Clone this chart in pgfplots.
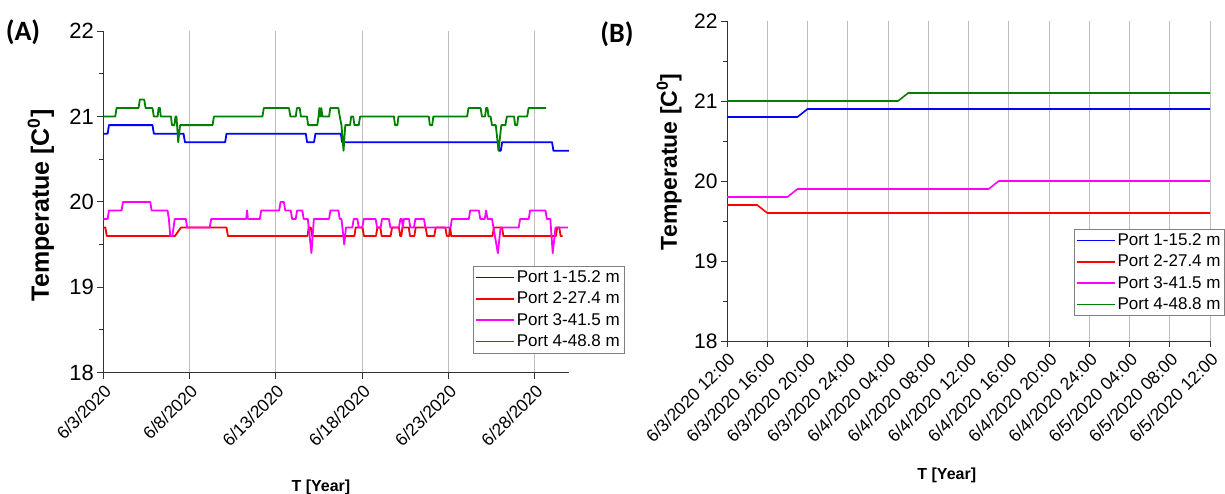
\documentclass[border=0pt]{standalone}
\usepackage{fontspec}
\setmainfont{Liberation Sans}
\newfontfamily\panelfont{Carlito}
\usepackage{pgfplots}
\pgfplotsset{compat=1.18}

\definecolor{pblue}{RGB}{0,0,255}
\definecolor{pred}{RGB}{255,0,0}
\definecolor{pmag}{RGB}{255,0,255}
\definecolor{pgreen}{RGB}{0,128,0}
\definecolor{gridgray}{RGB}{190,190,190}
\definecolor{axisgray}{RGB}{50,50,50}

\pgfplotsset{
  tempaxis/.style={
    scale only axis,
    anchor=south west,
    axis lines*=left,
    axis line style={-, line width=1pt, axisgray},
    enlargelimits=false,
    ymin=18, ymax=22, ytick={18,19,20,21,22}, minor y tick num=1,
    tick align=outside,
    major tick length=6pt, minor tick length=4pt,
    every tick/.style={axisgray, line width=0.9pt},
    xmajorgrids, grid style={gridgray, line width=0.8pt},
    /pgf/number format/assume math mode=true,
    y tick label style={font=\fontsize{22}{24}\selectfont},
    x tick label style={font=\fontsize{17.5}{19}\selectfont, rotate=45, anchor=north east},
    ylabel={\bfseries Temperatue [C\textsuperscript{0}]},
    xlabel={\bfseries T [Year]},
    xlabel style={font=\fontsize{16}{18}\selectfont, anchor=center},
    legend cell align=left,
    legend style={anchor=north west, draw=gray, fill=white,
      font=\fontsize{17}{19}\selectfont, row sep=4pt,
      inner xsep=2pt, inner ysep=2.5pt},
    legend image code/.code={\draw[##1] (0pt,0pt) -- (38pt,0pt);},
  },
  % the four sensor ports
  port1/.style={color=pblue, line width=#1, line join=round},
  port2/.style={color=pred, line width=#1, line join=round},
  port3/.style={color=pmag, line width=#1, line join=round},
  port4/.style={color=pgreen, line width=#1, line join=round},
}

\begin{document}
\begin{tikzpicture}
\useasboundingbox (0pt,0pt) rectangle (1225pt,493pt);

% ---------- (A) daily record, x = days after 6/3/2020 ----------
\begin{axis}[tempaxis,
  at={(103.3pt,120.5pt)}, width=466pt, height=341.2pt,
  xmin=0, xmax=27,
  xtick={0,5,10,15,20,25},
  xticklabels={6/3/2020,6/8/2020,6/13/2020,6/18/2020,6/23/2020,6/28/2020},
  ylabel style={font=\fontsize{25}{27}\selectfont, anchor=center,
    at={(axis description cs:-0.134,0.49)}},
  xlabel style={at={(axis description cs:0.467,-0.338)}},
  legend style={at={(axis description cs:0.793,0.312)}},
]
\addplot[port1=1.8pt] coordinates {
 (0,20.8) (0.25,20.8) (0.33,20.9) (2.85,20.9) (2.93,20.8) (4.65,20.8) (4.73,20.7)
 (7.06,20.7) (7.14,20.8) (11.73,20.8) (11.81,20.7) (12.21,20.7) (12.29,20.8)
 (13.76,20.8) (13.84,20.7) (22.85,20.7) (22.93,20.6) (23.03,20.6) (23.11,20.7)
 (26.0,20.7) (26.08,20.6) (26.97,20.6)};
\addplot[port2=1.8pt] coordinates {
 (0,19.7) (0.12,19.7) (0.2,19.6) (4.15,19.6) (4.5,19.7) (7.14,19.7) (7.22,19.6)
 (11.83,19.6) (11.9,19.7) (12.02,19.7) (12.1,19.6) (14.55,19.6) (14.62,19.7)
 (15.02,19.7) (15.1,19.6) (15.8,19.6) (15.88,19.7) (16.05,19.7) (16.13,19.6)
 (16.65,19.6) (16.73,19.7) (17.13,19.7) (17.2,19.6) (17.27,19.6) (17.33,19.7)
 (17.7,19.7) (17.77,19.6) (18.02,19.6) (18.1,19.7) (18.68,19.7) (18.76,19.6)
 (19.18,19.6) (19.26,19.7) (19.82,19.7) (19.9,19.6) (20.04,19.6) (20.1,19.7)
 (20.16,19.6) (22.55,19.6) (22.63,19.7) (23.1,19.7) (23.18,19.6) (26.22,19.6)
 (26.3,19.7) (26.42,19.7) (26.5,19.6) (26.62,19.6)};
\addplot[port3=1.8pt] coordinates {
 (0,19.8) (0.25,19.8) (0.33,19.9) (1.06,19.9) (1.14,20.0) (2.72,20.0) (2.8,19.9)
 (3.72,19.9) (3.8,19.8) (3.88,19.6) (4.0,19.6) (4.14,19.8) (4.78,19.8) (4.86,19.7)
 (6.17,19.7) (6.25,19.8) (8.28,19.8) (8.33,19.9) (8.38,19.8) (9.07,19.8) (9.15,19.9)
 (10.19,19.9) (10.27,20.0) (10.46,20.0) (10.54,19.9) (10.86,19.9) (10.94,19.8)
 (11.15,19.8) (11.23,19.9) (11.53,19.9) (11.61,19.8) (11.85,19.8) (12.06,19.4)
 (12.2,19.8) (13.08,19.8) (13.16,19.9) (13.62,19.9) (13.7,19.8) (13.8,19.8)
 (13.96,19.5) (14.06,19.7) (14.43,19.7) (14.51,19.8) (14.72,19.8) (14.8,19.7)
 (15.01,19.7) (15.09,19.8) (15.78,19.8) (15.86,19.7) (16.07,19.7) (16.15,19.8)
 (16.55,19.8) (16.63,19.7) (17.13,19.7) (17.21,19.8) (17.3,19.8) (17.35,19.7)
 (17.42,19.8) (17.71,19.8) (17.79,19.7) (18.0,19.7) (18.08,19.8) (18.58,19.8)
 (18.66,19.7) (20.12,19.7) (20.2,19.8) (21.18,19.8) (21.26,19.9) (21.76,19.9)
 (21.84,19.8) (22.1,19.8) (22.18,19.9) (22.26,19.8) (22.52,19.8) (22.86,19.4)
 (23.02,19.7) (24.07,19.7) (24.15,19.8) (24.65,19.8) (24.73,19.9) (25.62,19.9)
 (25.7,19.8) (25.9,19.8) (26.04,19.4) (26.2,19.7) (26.91,19.7)};
\addplot[port4=1.8pt] coordinates {
 (0,21.0) (0.69,21.0) (0.77,21.1) (2.04,21.1) (2.12,21.2) (2.37,21.2) (2.45,21.1)
 (2.85,21.1) (2.93,21.0) (3.15,21.0) (3.2,21.1) (3.28,21.1) (3.33,21.0) (3.92,21.0)
 (3.98,20.9) (4.12,20.9) (4.18,21.0) (4.24,21.0) (4.34,20.7) (4.45,20.9) (6.33,20.9)
 (6.41,21.0) (9.22,21.0) (9.3,21.1) (10.76,21.1) (10.84,21.0) (11.15,21.0)
 (11.22,21.1) (11.38,21.1) (11.45,21.0) (11.8,21.0) (11.87,20.9) (12.4,20.9)
 (12.47,21.0) (12.52,21.1) (12.58,21.0) (12.63,21.1) (12.7,21.0) (13.08,21.0)
 (13.15,21.1) (13.62,21.1) (13.7,21.0) (13.8,20.9) (13.92,20.6) (14.02,20.9)
 (14.3,20.9) (14.36,21.0) (14.48,21.0) (14.55,20.9) (14.8,20.9) (14.88,21.0)
 (16.84,21.0) (16.9,20.9) (17.04,20.9) (17.1,21.0) (18.86,21.0) (18.92,20.9)
 (19.06,20.9) (19.12,21.0) (21.08,21.0) (21.16,21.1) (21.86,21.1) (21.94,21.0)
 (22.12,21.0) (22.18,21.1) (22.26,21.1) (22.32,21.0) (22.44,21.0) (22.52,20.9)
 (22.74,20.9) (22.9,20.6) (23.06,20.9) (23.3,20.9) (23.38,21.0) (23.8,21.0)
 (23.86,20.9) (23.98,20.9) (24.04,21.0) (24.56,21.0) (24.64,21.1) (25.66,21.1)};
\legend{Port 1-15.2 m, Port 2-27.4 m, Port 3-41.5 m, Port 4-48.8 m}
\end{axis}

% ---------- (B) two days, x = hours after 6/3/2020 12:00 ----------
\begin{axis}[tempaxis,
  at={(727pt,152pt)}, width=483pt, height=320pt,
  xmin=0, xmax=48,
  xtick={0,4,...,48},
  xticklabels={6/3/2020 12:00,6/3/2020 16:00,6/3/2020 20:00,6/3/2020 24:00,
    6/4/2020 04:00,6/4/2020 08:00,6/4/2020 12:00,6/4/2020 16:00,6/4/2020 20:00,
    6/4/2020 24:00,6/5/2020 04:00,6/5/2020 08:00,6/5/2020 12:00},
  y tick label style={font=\fontsize{21}{23}\selectfont},
  ylabel style={font=\fontsize{23}{25}\selectfont, anchor=center,
    at={(axis description cs:-0.12,0.56)}},
  xlabel style={at={(axis description cs:0.455,-0.42)}},
  legend style={at={(axis description cs:0.718,0.35)}},
]
\addplot[port1=1.6pt] coordinates {(0,20.8) (7,20.8) (8,20.9) (48,20.9)};
\addplot[port2=1.6pt] coordinates {(0,19.7) (3,19.7) (4,19.6) (48,19.6)};
\addplot[port3=1.6pt] coordinates {(0,19.8) (6,19.8) (7,19.9) (26,19.9) (27,20.0) (48,20.0)};
\addplot[port4=1.6pt] coordinates {(0,21.0) (17,21.0) (18,21.1) (48,21.1)};
\legend{Port 1-15.2 m, Port 2-27.4 m, Port 3-41.5 m, Port 4-48.8 m}
\end{axis}

\node[font=\panelfont\bfseries\fontsize{28}{30}\selectfont] at (23pt,461pt) {(A)};
\node[font=\panelfont\bfseries\fontsize{28}{30}\selectfont] at (617pt,459pt) {(B)};
\end{tikzpicture}
\end{document}
